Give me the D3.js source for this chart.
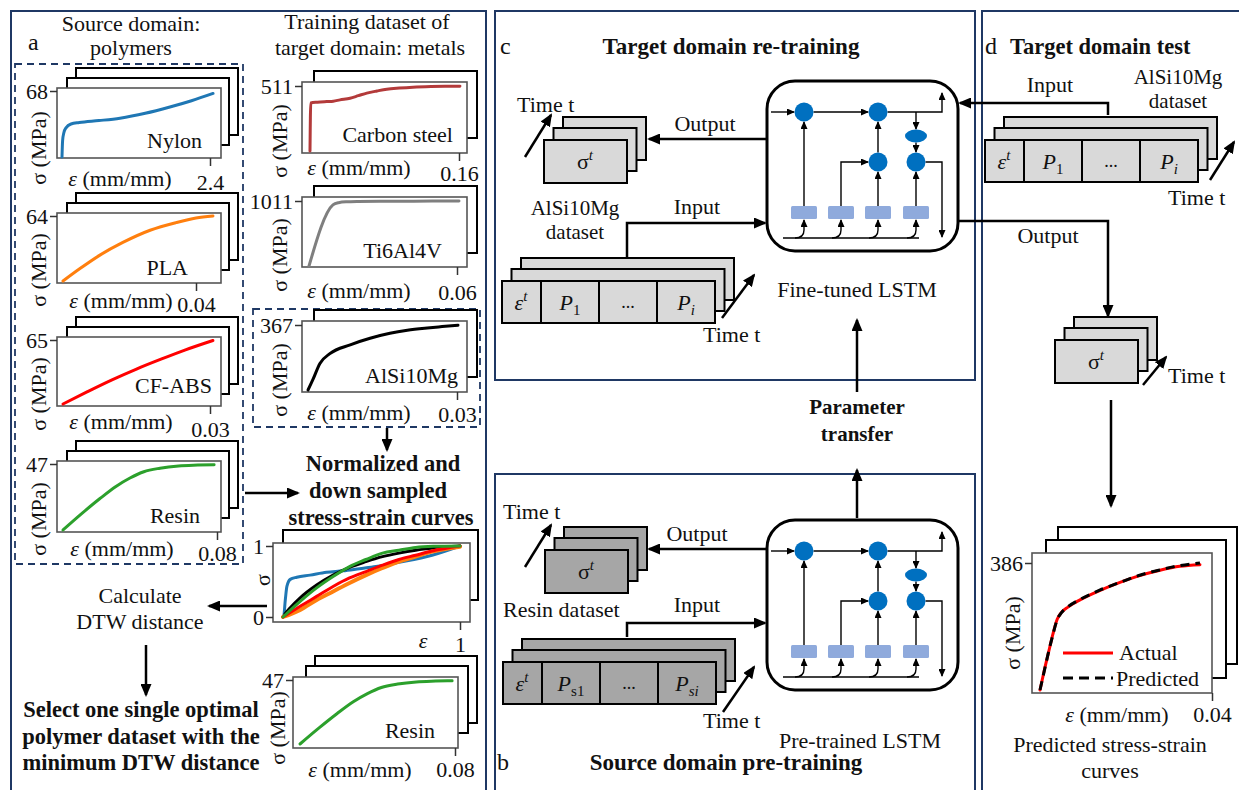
<!DOCTYPE html>
<html>
<head>
<meta charset="utf-8">
<script src="https://cdnjs.cloudflare.com/ajax/libs/d3/7.8.5/d3.min.js"></script>
<style>
  body { margin: 0; background: #fff; }
  svg { display: block; }
  text { font-family: "Liberation Serif", "Times New Roman", serif; fill: #111; }
</style>
</head>
<body>
<svg id="fig" width="1239" height="790"></svg>
<script>
// ---------------- data: stress-strain curves [strain (mm/mm), stress (MPa)] ----------------
const nylonCurve = [[0,0],[0.01,17],[0.03,25],[0.065,30],[0.146,34],[0.28,35.5],[0.6,37.5],[0.94,40],[1.35,45],[1.75,51.5],[2.1,58],[2.45,65.5]];
const plaCurve   = [[0,0],[0.005,12],[0.0111,25.5],[0.018,38],[0.0262,50],[0.034,57.5],[0.04,62],[0.0451,64]];
const cfabsCurve = [[0,0],[0.005,12.5],[0.01,24.5],[0.015,35.5],[0.02,45.5],[0.025,55],[0.0306,64.5]];
const resinCurve = [[0,0],[0.01,12],[0.0192,22.4],[0.0275,31],[0.0348,37],[0.042,41.5],[0.0504,44],[0.06,45.6],[0.07,46.2],[0.0785,46.5]];
const carbonCurve = [[0,0],[0.0008,378],[0.008,384],[0.018,389],[0.025,392],[0.0322,402],[0.043,415],[0.052,435],[0.061,455],[0.072,472],[0.0824,486],[0.096,495],[0.1106,502],[0.13,507],[0.145,509],[0.161,510]];
const tiCurve    = [[0,0],[0.0097,950],[0.012,985],[0.015,998],[0.02,1003],[0.03,1006],[0.04,1008],[0.05,1010],[0.0608,1011]];
const alsiCurve  = [[0,0],[0.001,60],[0.0024,150],[0.0044,205],[0.0085,255],[0.0125,292],[0.0165,320],[0.02,337],[0.024,350],[0.027,358],[0.0302,366]];
const actualCurve    = [[0,0],[0.001,60],[0.002,115],[0.003,170],[0.004,215],[0.005,236],[0.0065,252],[0.0093,274],[0.014,303],[0.0186,327],[0.023,347],[0.0279,364],[0.0325,376],[0.0372,381]];
const predictedCurve = [[0,0],[0.001,58],[0.002,116],[0.003,168],[0.004,214],[0.005,235],[0.0065,253],[0.0093,275],[0.014,304],[0.0186,327],[0.023,348],[0.0279,365],[0.0325,378],[0.0372,386]];

// normalized, down-sampled curves [strain / max, stress / max]
const normNylon = [[0,0],[0.004,0.01],[0.013,0.24],[0.022,0.43],[0.041,0.53],[0.078,0.56],[0.153,0.59],[0.246,0.63],[0.339,0.65],[0.432,0.68],[0.525,0.71],[0.655,0.77],[0.842,0.87],[1,1]];
const normAlsi  = [[0,0],[0.02,0.07],[0.041,0.13],[0.097,0.27],[0.19,0.45],[0.283,0.59],[0.376,0.70],[0.469,0.78],[0.562,0.85],[0.655,0.90],[0.75,0.94],[0.85,0.97],[1,1]];
const normPla   = [[0,0],[0.097,0.10],[0.19,0.24],[0.283,0.36],[0.376,0.48],[0.469,0.59],[0.562,0.69],[0.655,0.78],[0.749,0.85],[0.842,0.92],[1,0.99]];
const normCfabs = [[0,0],[0.097,0.15],[0.19,0.29],[0.283,0.43],[0.376,0.55],[0.469,0.64],[0.562,0.73],[0.655,0.81],[0.749,0.87],[0.842,0.93],[1,1]];
const normResin = [[0,0],[0.097,0.22],[0.19,0.41],[0.283,0.57],[0.376,0.71],[0.469,0.81],[0.562,0.90],[0.655,0.94],[0.749,0.98],[0.85,0.995],[1,1]];

// axis limits and tick labels
const polymerNames   = ["Nylon", "PLA", "CF-ABS", "Resin"];
const polymerStress  = [68, 64, 65, 47];
const polymerStrain  = [2.4, 0.04, 0.03, 0.08];
const polymerXTicks  = ["2.4", "0.04", "0.03", "0.08"];
const metalNames     = ["Carbon steel", "Ti6Al4V", "AlSi10Mg"];
const metalStress    = [511, 1011, 367];
const metalStrain    = [0.16, 0.06, 0.03];
const metalXTicks    = ["0.16", "0.06", "0.03"];
const testStress = 386, testStrain = 0.04;
const legendLabels = ["Actual", "Predicted"];

const polymerCurves = [nylonCurve, plaCurve, cfabsCurve, resinCurve];
const polymerColors = ["#1f77b4", "#ff7f0e", "#ff0000", "#2ca02c"];
const metalCurves = [carbonCurve, tiCurve, alsiCurve];
const metalColors = ["#b33a3a", "#7f7f7f", "#000000"];

// ---------------- canvas ----------------
const svg = d3.select("#fig");
svg.append("rect").attr("width", 1239).attr("height", 790).attr("fill", "#fff");
const defs = svg.append("defs");
function marker(id, len, wid, back) {
  defs.append("marker").attr("id", id).attr("markerUnits", "userSpaceOnUse")
    .attr("markerWidth", len).attr("markerHeight", wid)
    .attr("refX", len - back).attr("refY", wid / 2).attr("orient", "auto")
    .append("path").attr("d", `M0,0L${len},${wid / 2}L0,${wid}Z`).attr("fill", "#000");
}
marker("big", 13, 11, 2);
marker("small", 8, 7, 1);

const FS = 22;
function txt(x, y, s, o = {}) {
  return svg.append("text").attr("x", x).attr("y", y)
    .attr("font-size", o.size || FS)
    .attr("text-anchor", o.anchor || "middle")
    .attr("font-weight", o.bold ? "bold" : null)
    .attr("font-style", o.italic ? "italic" : null)
    .text(s);
}
function arrow(pts, size = "big", sw = 2.5, parent = svg) {
  return parent.append("path").attr("d", d3.line()(pts)).attr("fill", "none")
    .attr("stroke", "#000").attr("stroke-width", sw).attr("marker-end", `url(#${size})`);
}

// ---------------- panel frames ----------------
const navy = "#1f3864";
[[11, 11, 475, 800], [495, 11, 480, 369], [495, 474, 480, 340], [982, 11, 280, 800]].forEach(([x, y, w, h]) =>
  svg.append("rect").attr("x", x).attr("y", y).attr("width", w).attr("height", h)
    .attr("fill", "none").attr("stroke", navy).attr("stroke-width", 2));
// dashed selections
[[15, 64, 228, 500], [253, 309, 227, 118]].forEach(([x, y, w, h]) =>
  svg.append("rect").attr("x", x).attr("y", y).attr("width", w).attr("height", h)
    .attr("fill", "none").attr("stroke", navy).attr("stroke-width", 1.8).attr("stroke-dasharray", "7,5"));

// ---------------- small stress-strain plots ----------------
function miniPlot(L, spec) {
  const [fx, fy, fw, fh] = L.frame;
  const g = svg.append("g");
  L.backs.slice().reverse().forEach(([dx, dy, w, h]) =>
    g.append("rect").attr("x", fx + dx).attr("y", fy + dy).attr("width", w).attr("height", h)
      .attr("fill", "#fff").attr("stroke", "#000").attr("stroke-width", 2));
  g.append("rect").attr("x", fx).attr("y", fy).attr("width", fw).attr("height", fh)
    .attr("fill", "#fff").attr("stroke", "#555").attr("stroke-width", 1.6);

  const xs = d3.scaleLinear().domain([0, spec.xMax]).range(L.xr);
  const ys = d3.scaleLinear().domain([0, spec.yMax]).range(L.yr);

  const ya = g.append("g").attr("transform", `translate(${fx},0)`)
    .call(d3.axisLeft(ys).tickValues(spec.yVals).tickFormat((d, i) => spec.yLabels[i])
      .tickSize(7).tickSizeOuter(0).tickPadding(2));
  ya.select(".domain").remove();
  ya.attr("font-size", FS).attr("font-family", null);
  ya.selectAll("line").attr("stroke", "#333").attr("stroke-width", 1.5);
  ya.selectAll("text").attr("fill", "#222");

  const xa = g.append("g").attr("transform", `translate(0,${fy + fh})`)
    .call(d3.axisBottom(xs).tickValues([spec.xMax]).tickFormat(() => spec.xLabel)
      .tickSize(8).tickSizeOuter(0).tickPadding(L.xPad));
  xa.select(".domain").remove();
  xa.attr("font-size", FS).attr("font-family", null);
  xa.selectAll("line").attr("stroke", "#333").attr("stroke-width", 1.5);
  xa.selectAll("text").attr("fill", "#222");

  const line = d3.line().x(d => xs(d[0])).y(d => ys(d[1])).curve(d3.curveMonotoneX);
  spec.series.forEach(s =>
    g.append("path").attr("d", line(s.data)).attr("fill", "none")
      .attr("stroke", s.color).attr("stroke-width", s.width || 3)
      .attr("stroke-dasharray", s.dash || null).attr("stroke-linecap", s.dash ? "butt" : "round"));

  if (spec.name) txt(L.nameAt[0], L.nameAt[1], spec.name, { anchor: "end" });
  g.append("text").attr("transform", `translate(${L.ylab[0]},${L.ylab[1]}) rotate(-90)`)
    .attr("text-anchor", "middle").attr("dy", "0.35em").attr("font-size", FS).text(spec.yTitle);
  const xt = txt(L.xlab[0], L.xlab[1], "");
  xt.append("tspan").attr("font-style", "italic").text("ε");
  if (spec.xTitleFull) xt.append("tspan").text(" (mm/mm)");
  return { xs, ys };
}

const polyBacks = [[10, -10, 162, 67], [19, -20, 162, 67]];
const polymerLayout = [
  { frame: [57, 88, 164, 70],  backs: polyBacks, xr: [62, 210], yr: [157, 91],  xPad: 8,  nameAt: [202, 148], ylab: [38, 148], xlab: [120, 186] },
  { frame: [57, 213, 164, 70], backs: polyBacks, xr: [63, 196], yr: [281, 216], xPad: 5,  nameAt: [188, 275], ylab: [38, 270], xlab: [121, 308] },
  { frame: [57, 337, 164, 69], backs: polyBacks, xr: [63, 210], yr: [404, 340], xPad: 7,  nameAt: [212, 393], ylab: [38, 394], xlab: [121, 429] },
  { frame: [57, 461, 164, 71], backs: polyBacks, xr: [63, 217], yr: [530, 464], xPad: 5,  nameAt: [200, 523], ylab: [38, 519], xlab: [122, 556] },
];
polymerLayout.forEach((L, i) => miniPlot(L, {
  xMax: polymerStrain[i], yMax: polymerStress[i], yVals: [polymerStress[i]], yLabels: [String(polymerStress[i])],
  xLabel: polymerXTicks[i], name: polymerNames[i], yTitle: "σ (MPa)", xTitleFull: true,
  series: [{ data: polymerCurves[i], color: polymerColors[i] }]
}));

const metalBacks = [[12, -11, 163, 67]];
const metalLayout = [
  { frame: [302, 82, 165, 71],  backs: metalBacks, xr: [310, 459], yr: [151, 86],  xPad: 4, nameAt: [453, 142], ylab: [279, 141], xlab: [359, 175] },
  { frame: [302, 197, 165, 70], backs: metalBacks, xr: [309, 457], yr: [266, 201], xPad: 9, nameAt: [442, 258], ylab: [279, 255], xlab: [359, 298] },
  { frame: [302, 321, 165, 71], backs: metalBacks, xr: [308, 457], yr: [390, 325], xPad: 6, nameAt: [458, 383], ylab: [279, 380], xlab: [359, 420] },
];
metalLayout.forEach((L, i) => miniPlot(L, {
  xMax: metalStrain[i], yMax: metalStress[i], yVals: [metalStress[i]], yLabels: [String(metalStress[i])],
  xLabel: metalXTicks[i], name: metalNames[i], yTitle: "σ (MPa)", xTitleFull: true,
  series: [{ data: metalCurves[i], color: metalColors[i] }]
}));

// normalized, down-sampled curves of all materials
miniPlot(
  { frame: [273, 543, 197, 79], backs: [[10, -13, 195, 70]], xr: [283, 460], yr: [617, 546], xPad: 6, ylab: [262, 580], xlab: [423, 648] },
  { xMax: 1, yMax: 1, yVals: [0, 1], yLabels: ["0", "1"], xLabel: "1", yTitle: "σ", xTitleFull: false,
    series: [
      { data: normNylon, color: polymerColors[0] },
      { data: normAlsi, color: "#000" },
      { data: normPla, color: polymerColors[1], width: 4 },
      { data: normCfabs, color: polymerColors[2] },
      { data: normResin, color: polymerColors[3] },
    ] });

// selected source dataset
miniPlot(
  { frame: [293, 677, 165, 71], backs: [[13, -11, 162, 67], [22, -21, 162, 67]], xr: [300, 455], yr: [744, 680], xPad: 5, nameAt: [435, 738], ylab: [277, 728], xlab: [360, 777] },
  { xMax: polymerStrain[3], yMax: polymerStress[3], yVals: [polymerStress[3]], yLabels: [String(polymerStress[3])],
    xLabel: polymerXTicks[3], name: "Resin", yTitle: "σ (MPa)", xTitleFull: true,
    series: [{ data: resinCurve, color: polymerColors[3] }] });

// predicted vs actual on the test set
miniPlot(
  { frame: [1032, 553, 180, 140], backs: [[14, -13, 180, 138], [26, -26, 179, 137]], xr: [1040, 1212], yr: [690, 563], xPad: 5, ylab: [1012, 633], xlab: [1117, 722] },
  { xMax: testStrain, yMax: testStress, yVals: [testStress], yLabels: [String(testStress)],
    xLabel: "0.04", yTitle: "σ (MPa)", xTitleFull: true,
    series: [
      { data: actualCurve, color: "#ff0000", width: 3 },
      { data: predictedCurve, color: "#000", width: 3, dash: "9,6" },
    ] });
// legend
svg.append("line").attr("x1", 1063).attr("x2", 1113).attr("y1", 653).attr("y2", 653).attr("stroke", "#ff0000").attr("stroke-width", 3);
svg.append("line").attr("x1", 1063).attr("x2", 1113).attr("y1", 678).attr("y2", 678).attr("stroke", "#000").attr("stroke-width", 3).attr("stroke-dasharray", "10,6");
txt(1119, 660, legendLabels[0], { anchor: "start" });
txt(1116, 686, legendLabels[1], { anchor: "start" });

// ---------------- panel a texts and arrows ----------------
txt(28, 50, "a", { anchor: "start", size: 24 });
txt(131, 31, "Source domain:");
txt(131, 55, "polymers");
txt(367, 29, "Training dataset of");
txt(370, 55, "target domain: metals");
txt(383, 471, "Normalized and", { bold: true, size: 22.5 });
txt(378, 498, "down sampled", { bold: true, size: 22.5 });
txt(381, 525, "stress-strain curves", { bold: true, size: 22.5 });
txt(140, 603, "Calculate");
txt(140, 629, "DTW distance");
txt(141, 717, "Select one single optimal", { bold: true, size: 22.5 });
txt(141, 744, "polymer dataset with the", { bold: true, size: 22.5 });
txt(141, 770, "minimum DTW distance", { bold: true, size: 22.5 });
arrow([[245, 493], [298, 493]]);
arrow([[387, 428], [387, 450]]);
arrow([[267, 606], [209, 606]]);
arrow([[146, 645], [146, 695]]);

// ---------------- stacks of sequence records ----------------
function stack(x, y, w, h, offs, fill) {
  offs.slice().reverse().forEach(([dx, dy]) =>
    svg.append("rect").attr("x", x + dx).attr("y", y + dy).attr("width", w).attr("height", h)
      .attr("fill", fill).attr("stroke", "#000").attr("stroke-width", 2));
}
const stackOffs = [[0, 0], [9.5, -12], [19, -23]];
function sigmaStack(x, y, fill) {
  stack(x, y, 83, 43, stackOffs, fill);
  const t = txt(x + 41, y + 29, "");
  t.append("tspan").text("σ");
  t.append("tspan").attr("font-style", "italic").attr("font-size", 15).attr("dy", -9).text("t");
}
function inputStack(x, y, fill, sub) {
  stack(x, y, 213, 42, stackOffs, fill);
  [39, 97, 155].forEach(c => svg.append("line").attr("x1", x + c).attr("x2", x + c)
    .attr("y1", y).attr("y2", y + 42).attr("stroke", "#000").attr("stroke-width", 2));
  const cy = y + 29;
  const e = txt(x + 19, cy, "");
  e.append("tspan").attr("font-style", "italic").text("ε");
  e.append("tspan").attr("font-style", "italic").attr("font-size", 15).attr("dy", -9).text("t");
  const p1 = txt(x + 68, cy, "");
  p1.append("tspan").attr("font-style", "italic").text("P");
  p1.append("tspan").attr("font-size", 15).attr("dy", 5).text(sub[0]);
  txt(x + 126, cy - 2, "...", { size: 18 });
  const pi = txt(x + 184, cy, "");
  pi.append("tspan").attr("font-style", "italic").text("P");
  pi.append("tspan").attr("font-size", 15).attr("dy", 5).attr("font-style", sub[2] ? "italic" : null).text(sub[1]);
}
function timeArrow(x1, y1, x2, y2, tx, ty) {
  arrow([[x1, y1], [x2, y2]]);
  txt(tx, ty, "Time t", { anchor: "start" });
}

// ---------------- LSTM cell ----------------
function lstm(x0, y0) {
  const g = svg.append("g").attr("transform", `translate(${x0},${y0})`);
  g.append("rect").attr("width", 191).attr("height", 170).attr("rx", 28)
    .attr("fill", "#fff").attr("stroke", "#000").attr("stroke-width", 3);
  const thin = (pts, head = true) => g.append("path").attr("d", d3.line()(pts)).attr("fill", "none")
    .attr("stroke", "#000").attr("stroke-width", 1.4).attr("marker-end", head ? "url(#small)" : null);
  const gx = [37, 74, 111, 149];
  thin([[16, 157], [152, 157]], false);
  gx.forEach(c => g.append("path").attr("d", `M${c - 9},157Q${c},157 ${c},149L${c},139`)
    .attr("fill", "none").attr("stroke", "#000").attr("stroke-width", 1.4).attr("marker-end", "url(#small)"));
  thin([[4, 31], [27, 31]]);
  thin([[37, 125], [37, 41]]);
  thin([[46.5, 31], [101, 31]]);
  thin([[120.5, 31], [175, 31], [175, 12]], true);
  thin([[149, 31], [149, 48]]);
  thin([[149, 61.5], [149, 71]]);
  thin([[74, 125], [74, 81], [101, 81]]);
  thin([[111, 125], [111, 91]]);
  thin([[111, 71.5], [111, 41]]);
  thin([[149, 125], [149, 91]]);
  thin([[158.5, 81], [175, 81], [175, 156]]);
  gx.forEach(c => g.append("rect").attr("x", c - 13).attr("y", 125).attr("width", 26).attr("height", 13)
    .attr("rx", 1.5).attr("fill", "#8faadc"));
  [[37, 31], [111, 31], [111, 81], [149, 81]].forEach(([cx, cy]) =>
    g.append("circle").attr("cx", cx).attr("cy", cy).attr("r", 9.5).attr("fill", "#0070c0"));
  g.append("ellipse").attr("cx", 149).attr("cy", 55).attr("rx", 11).attr("ry", 6.5).attr("fill", "#0070c0");
}

// ---------------- panel c: target domain re-training ----------------
txt(500, 54, "c", { anchor: "start", size: 24 });
txt(731, 54, "Target domain re-training", { bold: true, size: 23 });
sigmaStack(544, 140, "#d9d9d9");
timeArrow(525, 157, 551, 115, 517, 112);
txt(705, 131, "Output");
txt(575, 215, "AlSi10Mg", { size: 21 });
txt(575, 239, "dataset", { size: 21 });
txt(697, 214, "Input");
inputStack(502, 281, "#d9d9d9", ["1", "i", true]);
timeArrow(722, 318, 754, 275, 703, 342);
lstm(767, 81);
arrow([[767, 139], [649, 139]]);
arrow([[627, 257], [627, 223], [765, 223]]);
txt(857, 297, "Fine-tuned LSTM");

// ---------------- panel b: source domain pre-training ----------------
txt(497, 770, "b", { anchor: "start", size: 24 });
txt(726, 770, "Source domain pre-training", { bold: true, size: 23 });
sigmaStack(545, 550, "#a6a6a6");
timeArrow(525, 567, 551, 525, 503, 519);
txt(697, 541, "Output");
txt(503, 617, "Resin dataset", { anchor: "start" });
txt(697, 612, "Input");
inputStack(503, 662, "#a6a6a6", ["s1", "si", true]);
timeArrow(723, 712, 754, 667, 703, 728);
lstm(767, 520);
arrow([[767, 549], [649, 549]]);
arrow([[627, 637], [627, 623], [765, 623]]);
txt(860, 748, "Pre-trained LSTM");

// parameter transfer between the two networks
txt(857, 414, "Parameter", { bold: true, size: 21 });
txt(857, 441, "transfer", { bold: true, size: 21 });
arrow([[857, 518], [857, 470]]);
arrow([[857, 392], [857, 320]]);

// ---------------- panel d: target domain test ----------------
txt(985, 54, "d", { anchor: "start", size: 24 });
txt(1010, 54, "Target domain test", { anchor: "start", bold: true, size: 22.5 });
txt(1050, 92, "Input");
txt(1178, 84, "AlSi10Mg", { size: 21 });
txt(1178, 108, "dataset", { size: 21 });
inputStack(985, 140, "#d9d9d9", ["1", "i", true]);
timeArrow(1210, 180, 1234, 142, 1168, 205);
arrow([[1108, 115], [1108, 103], [960, 103]]);
arrow([[958, 221], [1108, 221], [1108, 316]]);
txt(1048, 243, "Output");
sigmaStack(1055, 340, "#d9d9d9");
timeArrow(1143, 385, 1166, 357, 1168, 383);
arrow([[1111, 400], [1111, 506]]);
txt(1110, 752, "Predicted stress-strain");
txt(1110, 778, "curves");
</script>
</body>
</html>
